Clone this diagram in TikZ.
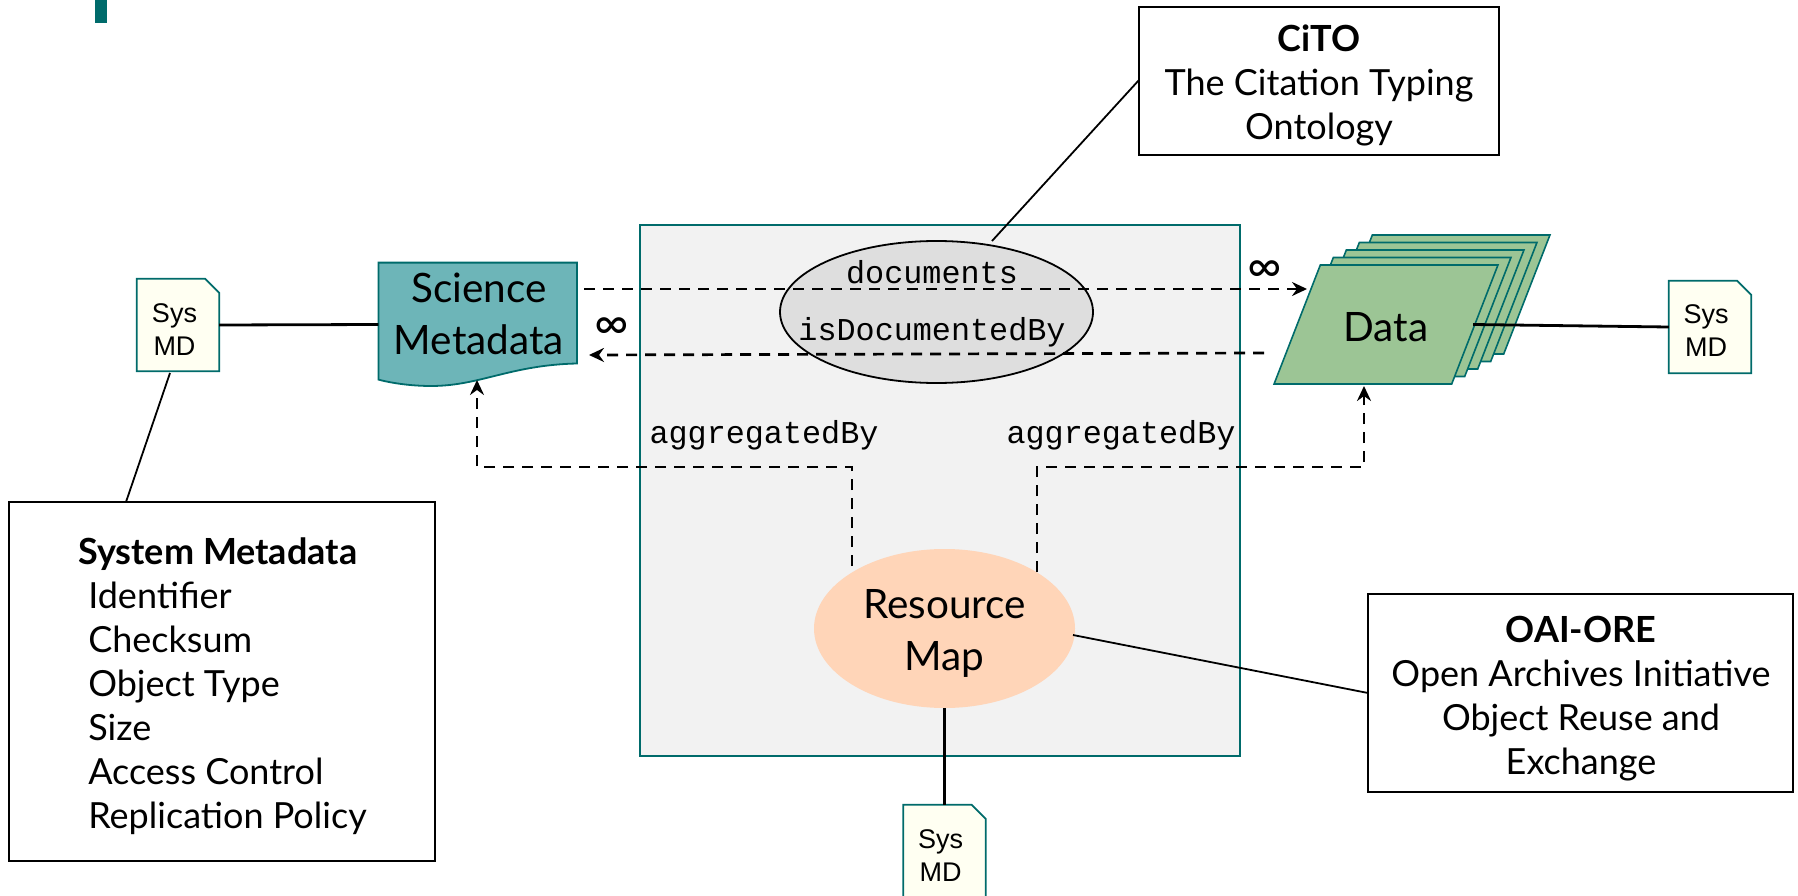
\documentclass[tikz,border=0pt]{standalone}
\usepackage{fontspec}
\setmainfont{Lato}
\setmonofont{Liberation Mono}
\newfontfamily\sysfont{Liberation Sans}
\usetikzlibrary{arrows.meta,shapes.geometric}
\definecolor{tealline}{HTML}{006B6B}
\definecolor{scifill}{HTML}{6DB5B8}
\definecolor{datafill}{HTML}{9CC595}
\definecolor{mapfill}{HTML}{FFD5B8}
\definecolor{notefill}{HTML}{FFFFF2}
\tikzset{
  infobox/.style={draw=black,line width=1.6pt,fill=white,inner sep=0pt},
  infotext/.style={align=center,inner sep=0pt,font=\fontsize{36}{44}\selectfont},
  sysmd/.style={inner sep=0pt,minimum width=82pt,minimum height=92pt},
  sysmdline/.style={draw=tealline,line width=1.8pt,fill=notefill},
  systext/.style={align=center,inner sep=0pt,font=\sysfont\fontsize{27}{33}\selectfont},
  datasheet/.style={trapezium,trapezium stretches=true,trapezium left angle=70.6,trapezium right angle=109.4,draw=tealline,line width=1.6pt,fill=datafill,inner sep=2pt,minimum width=224pt,minimum height=119pt},
  relation/.style={font=\ttfamily\fontsize{31.8}{36}\selectfont,inner sep=0pt},
  dashedarrow/.style={line width=2.7pt,dash pattern=on 11pt off 8pt,-{Stealth[length=15pt,width=14pt,inset=5pt]}},
  plainline/.style={line width=1.8pt},
  heavyline/.style={line width=2.8pt},
  bigtext/.style={font=\fontsize{40.5}{52}\selectfont,align=center,inner sep=0pt},
  inftext/.style={font=\fontsize{47}{47}\selectfont,inner sep=0pt}
}
\begin{document}
\begin{tikzpicture}[x=1pt,y=-1pt]
\clip (0,0) rectangle (1798,896);
\fill[tealline] (95,0) rectangle (107,23);
\node[draw=tealline,line width=1.6pt,fill=black!5,minimum width=600pt,minimum height=531pt,inner sep=0pt] (aggregation) at (940,490.5) {};
\node[ellipse,draw=black,line width=1.8pt,fill=black!13,minimum width=313pt,minimum height=142pt,inner sep=0pt] (citoterm) at (936.5,312) {};
\node[ellipse,fill=mapfill,minimum width=261pt,minimum height=159pt,inner sep=0pt] (resmap) at (944.5,628.5) {};
\node[bigtext] (maplabel) at (944.5,633) {Resource\\Map};
\draw[draw=tealline,line width=1.8pt,fill=scifill] (378.4,262.6) -- (577,262.6) -- (577,363.5) .. controls (510,365) and (480,386) .. (431,386) .. controls (415,386) and (395,384) .. (378.4,379.6) -- cycle;
\node[bigtext] (scimeta) at (479,314) {Science\\Metadata};
\foreach \i in {4,3,2,1,0}
  \node[datasheet] (data\i) at (1386+13*\i,324.5-7.5*\i) {};
\node[bigtext] (datalabel) at (1386,327) {Data};
\foreach \nm/\x/\y in {sysleft/178/325,sysright/1710/327,sysbottom/944.5/851} {
  \node[sysmd] (\nm) at (\x,\y) {};
  \draw[sysmdline] (\nm.north west) -- ([xshift=-14pt]\nm.north east) -- ([yshift=-14pt]\nm.north east) -- (\nm.south east) -- (\nm.south west) -- cycle;
}
\node[systext] (syslefttext) at (174.5,330) {Sys\\MD};
\node[systext] (sysrighttext) at (1706,331) {Sys\\MD};
\node[systext] (sysbottomtext) at (940.5,855.5) {Sys\\MD};
\node[infobox,minimum width=426pt,minimum height=359pt] (sysbox) at (222,681.5) {};
\node[infobox,minimum width=360pt,minimum height=148pt] (citobox) at (1319,81) {};
\node[infobox,minimum width=425pt,minimum height=198pt] (orebox) at (1580.5,693) {};
\node[infotext,align=left] (systext) at (227.5,686) {\hspace*{-10pt}\textbf{System Metadata}\\Identifier\\Checksum\\Object Type\\Size\\Access Control\\Replication Policy};
\node[infotext] (citotext) at (1319,85) {\textbf{CiTO}\\The Citation Typing\\Ontology};
\node[infotext] (oretext) at (1581,699) {\textbf{OAI-ORE}\\Open Archives Initiative\\Object Reuse and\\Exchange};
\node[relation] (documents) at (932,272) {documents};
\node[relation] (documentedby) at (932,332) {isDocumentedBy};
\node[relation] (aggleft) at (764,435) {aggregatedBy};
\node[relation] (aggright) at (1121,435) {aggregatedBy};
\node[inftext] (infleft) at (612,329) {∞};
\node[inftext] (infright) at (1265,272) {∞};
\coordinate (docfrom) at (584,289);
\coordinate (docto) at (1307,289);
\coordinate (isdocfrom) at (1264,353);
\coordinate (isdocto) at (589,355);
\coordinate (mapleft) at (852,566);
\coordinate (mapright) at (1037,572);
\coordinate (sciin) at (477,380);
\coordinate (datain) at (1364,386);
\coordinate (dataout) at (1473,324.5);
\coordinate (sysleftout) at (170,373);
\coordinate (sysboxin) at (126,502);
\coordinate (citoin) at (1139,80);
\coordinate (citoout) at (992,241);
\coordinate (oreout) at (1073,635);
\coordinate (orein) at (1368,693);
\coordinate (sciout) at (378.4,324.5);
\draw[dashedarrow] (docfrom) -- (docto);
\draw[dashedarrow] (isdocfrom) -- (isdocto);
\draw[dashedarrow] (mapleft) |- (477,467) -- (sciin);
\draw[dashedarrow] (mapright) |- (1364,467) -- (datain);
\draw[heavyline] (sysleft.east) -- (sciout);
\draw[plainline] (sysleftout) -- (sysboxin);
\draw[plainline] (citoin) -- (citoout);
\draw[plainline] (oreout) -- (orein);
\draw[heavyline] (dataout) -- (sysright.west);
\draw[heavyline] (resmap.south) -- (sysbottom.north);
\end{tikzpicture}
\end{document}
